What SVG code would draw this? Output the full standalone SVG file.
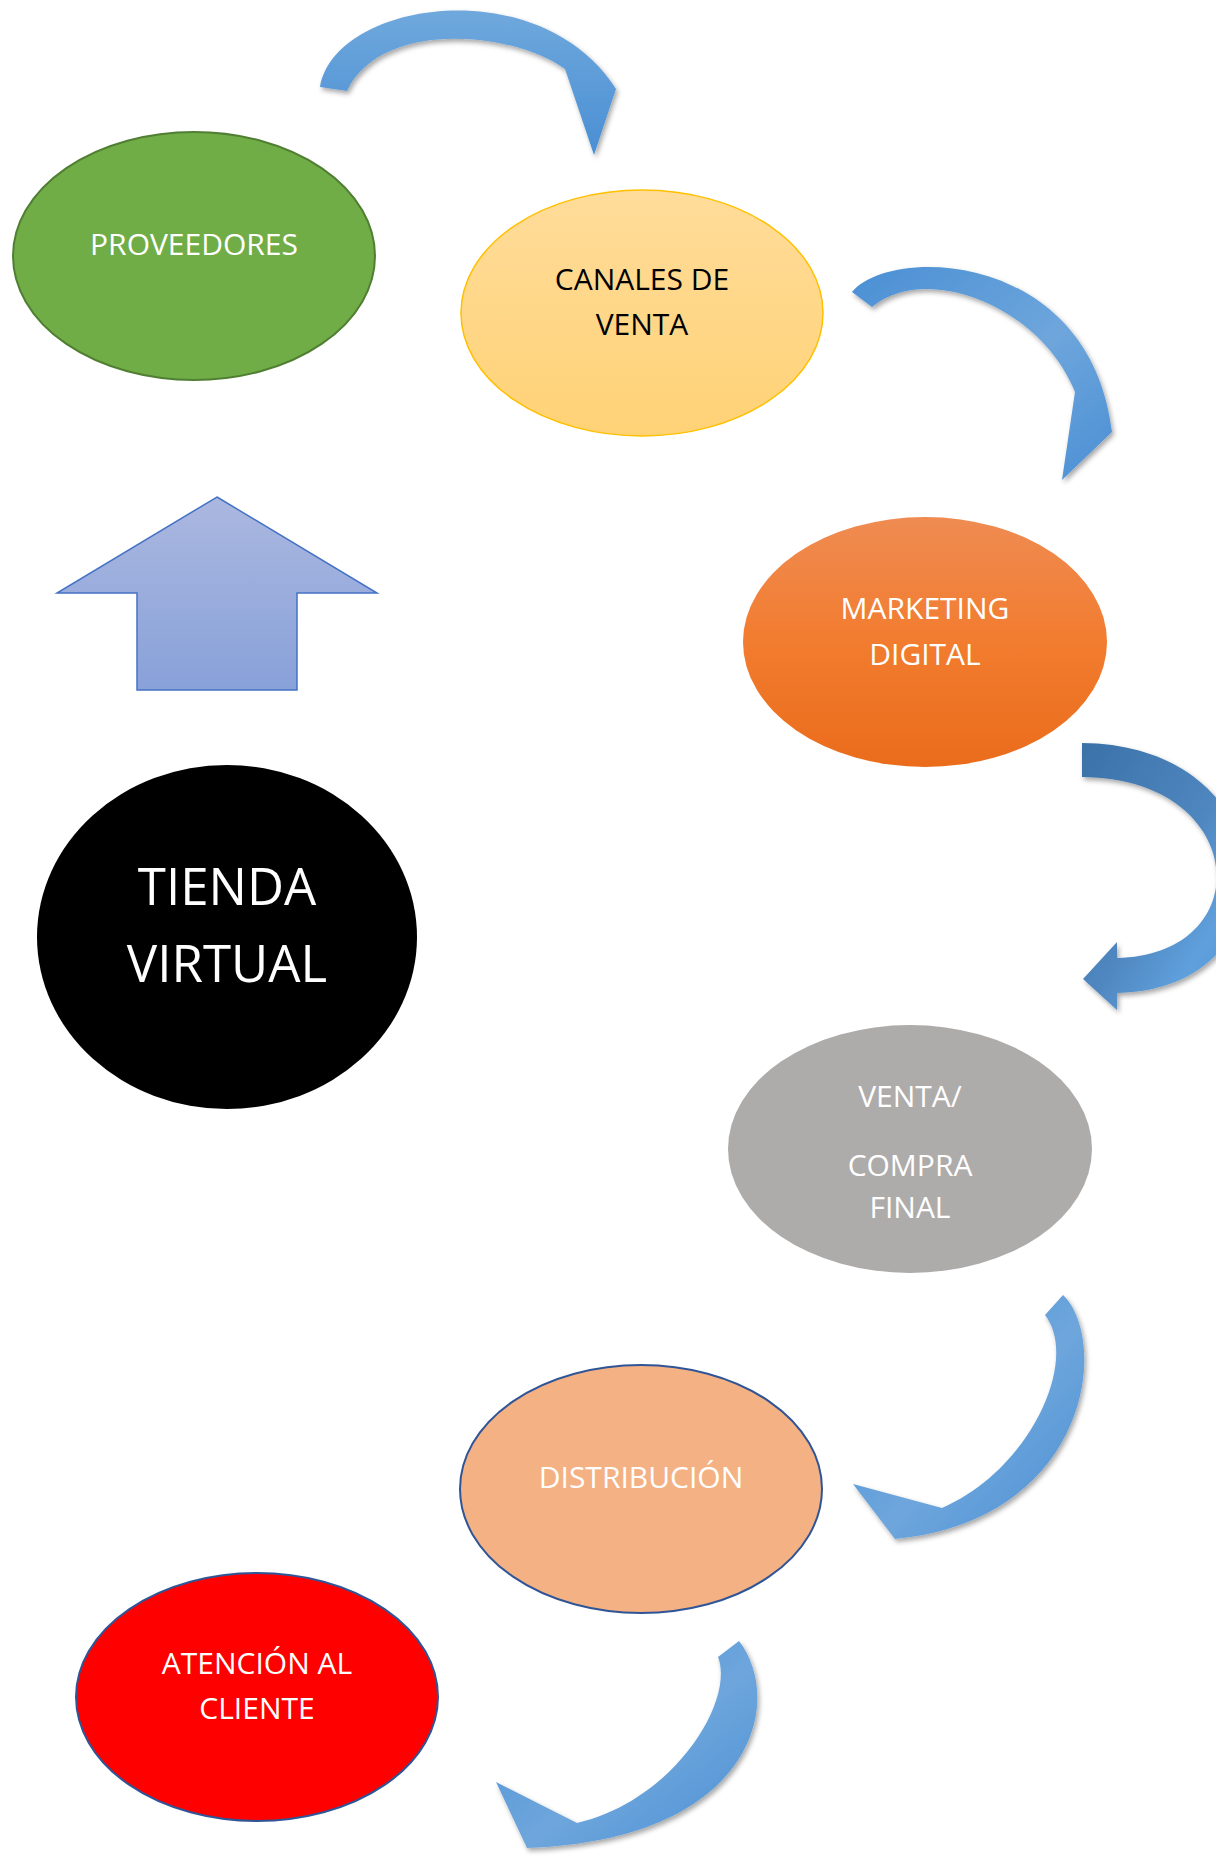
<svg xmlns="http://www.w3.org/2000/svg" width="1216" height="1858" viewBox="0 0 1216 1858">
<defs>
<style>
.lbl{font-family:"Open Sans","Noto Sans","Liberation Sans",sans-serif;font-size:30px;text-anchor:middle;fill:#ffffff}
.dark{fill:#000000}
.big{font-size:51px}
.arrow{filter:url(#sh)}
</style>
<filter id="sh" x="-20%" y="-20%" width="140%" height="140%">
<feDropShadow dx="2" dy="3" stdDeviation="2.5" flood-color="#000" flood-opacity="0.35"/>
</filter>
<linearGradient id="gBlue" x1="0" y1="0" x2="1" y2="1">
<stop offset="0" stop-color="#4a8fd4"/>
<stop offset="0.55" stop-color="#6ea6dc"/>
<stop offset="1" stop-color="#4a8fd4"/>
</linearGradient>
<linearGradient id="gBlueV" x1="0" y1="0" x2="0" y2="1">
<stop offset="0" stop-color="#6fa8dc"/>
<stop offset="1" stop-color="#4a8fd4"/>
</linearGradient>
<linearGradient id="gBlue3" x1="0" y1="0" x2="1" y2="1">
<stop offset="0" stop-color="#3a72a8"/>
<stop offset="0.5" stop-color="#4f86bf"/>
<stop offset="0.75" stop-color="#5fa0dc"/>
<stop offset="1" stop-color="#4a8fd4"/>
</linearGradient>
<linearGradient id="gUp" x1="0" y1="0" x2="0" y2="1">
<stop offset="0" stop-color="#abb8e0"/>
<stop offset="1" stop-color="#88a1d9"/>
</linearGradient>
<linearGradient id="gYel" x1="0" y1="0" x2="0" y2="1">
<stop offset="0" stop-color="#ffdc9a"/>
<stop offset="1" stop-color="#ffd276"/>
</linearGradient>
<linearGradient id="gOr" x1="0" y1="0" x2="0" y2="1">
<stop offset="0" stop-color="#ef8b52"/>
<stop offset="0.5" stop-color="#f27c2f"/>
<stop offset="1" stop-color="#ea6c1b"/>
</linearGradient>
</defs>

<g id="connectors">
<path id="arrow1" class="arrow" fill="url(#gBlueV)" d="M320,87 C335,0 540,-30 616,89 L594,155 L565,69 C510,30 380,20 347,91 Z"/>
<path id="arrow2" class="arrow" fill="url(#gBlue)" d="M852,292 C890,245 1090,250 1112,432 L1062,480 L1075,392 C1040,305 925,262 872,307 Z"/>
<path id="arrow3" class="arrow" fill="url(#gBlue3)" d="M1082,743 C1290,745 1300,990 1117,993 L1117,1010 L1083,979 L1117,942 L1117,958 C1260,955 1250,778 1082,777 Z"/>
<path id="arrow4" class="arrow" fill="url(#gBlue)" d="M1063,1295 C1110,1340 1090,1520 895,1539 L853,1484 L942,1508 C1030,1470 1080,1360 1045,1315 Z"/>
<path id="arrow5" class="arrow" fill="url(#gBlue)" d="M739,1641 C785,1700 755,1840 527,1848 L496,1782 L577,1823 C675,1800 735,1700 718,1657 Z"/>
<path id="uparrow" fill="url(#gUp)" stroke="#4472c4" stroke-width="1.5" d="M217,497 L377,593 L297,593 L297,690 L137,690 L137,593 L57,593 Z"/>
</g>

<g id="proveedores">
<ellipse cx="194" cy="256" rx="181" ry="124" fill="#70ad47" stroke="#507e32" stroke-width="2"/>
<text class="lbl" x="194" y="255">PROVEEDORES</text>
</g>

<g id="canales">
<ellipse cx="642" cy="313" rx="181" ry="123" fill="url(#gYel)" stroke="#ffc000" stroke-width="1.5"/>
<text class="lbl dark" x="642" y="290">CANALES DE</text>
<text class="lbl dark" x="642" y="335">VENTA</text>
</g>

<g id="marketing">
<ellipse cx="925" cy="642" rx="182" ry="125" fill="url(#gOr)"/>
<text class="lbl" x="925" y="619">MARKETING</text>
<text class="lbl" x="925" y="665">DIGITAL</text>
</g>

<g id="tienda">
<ellipse cx="227" cy="937" rx="190" ry="172" fill="#000000"/>
<text class="lbl big" x="227" y="905">TIENDA</text>
<text class="lbl big" x="227" y="982">VIRTUAL</text>
</g>

<g id="venta">
<ellipse cx="910" cy="1149" rx="182" ry="124" fill="#aeabab"/>
<text class="lbl" x="910" y="1107">VENTA/</text>
<text class="lbl" x="910" y="1176">COMPRA</text>
<text class="lbl" x="910" y="1218">FINAL</text>
</g>

<g id="distribucion">
<ellipse cx="641" cy="1489" rx="181" ry="124" fill="#f4b183" stroke="#2f5597" stroke-width="2"/>
<text class="lbl" x="641" y="1488">DISTRIBUCIÓN</text>
</g>

<g id="atencion">
<ellipse cx="257" cy="1697" rx="181" ry="124" fill="#ff0000" stroke="#2f5597" stroke-width="2"/>
<text class="lbl" x="257" y="1674">ATENCIÓN AL</text>
<text class="lbl" x="257" y="1719">CLIENTE</text>
</g>
</svg>
